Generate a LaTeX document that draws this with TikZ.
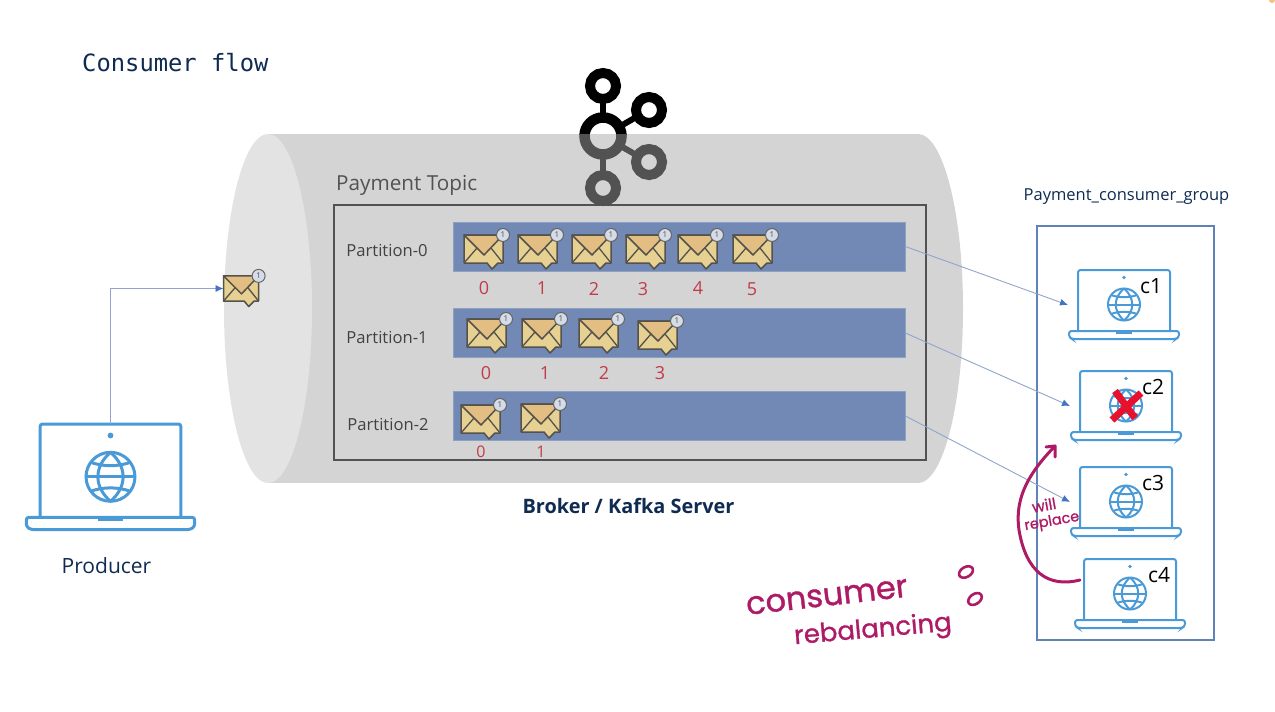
\documentclass[tikz,border=0pt]{standalone}
\usepackage{fontspec}
\setmainfont{Open Sans}
\newfontfamily\codefont{DejaVu Sans Mono}
\newfontfamily\handfont[FakeBold=1]{Poppins}
\usetikzlibrary{arrows.meta,positioning}
\definecolor{navy}{HTML}{0F2B52}
\definecolor{cylbody}{HTML}{D4D4D4}
\definecolor{cylface}{HTML}{E3E3E3}
\definecolor{barblue}{HTML}{7189B4}
\definecolor{numred}{HTML}{C23B4A}
\definecolor{linkblue}{HTML}{8FA5CC}
\definecolor{tipblue}{HTML}{4472C4}
\definecolor{groupblue}{HTML}{5F82B8}
\definecolor{lapblue}{HTML}{4A9AD8}
\definecolor{mailtop}{HTML}{E2BE82}
\definecolor{mailbot}{HTML}{E6D092}
\definecolor{mailedge}{HTML}{55524C}
\definecolor{badge}{HTML}{D6DCE7}
\definecolor{inkpink}{HTML}{AD1A66}
\definecolor{crossred}{HTML}{E8112D}
\definecolor{speck}{HTML}{F4C27F}
\tikzset{
  bar/.style={fill=barblue,draw=barblue!80!white,minimum width=452pt,minimum height=49pt,inner sep=0pt,anchor=west},
  plabel/.style={text=black!74,font=\fontsize{16.6}{17}\selectfont},
  num/.style={text=numred,font=\fontsize{18}{18}\selectfont},
  clabel/.style={text=black,font=\fontsize{21}{21}\selectfont},
  conn/.style={draw=linkblue,line width=0.9pt,-{Latex[length=8pt,width=7pt,color=tipblue]}},
  ink/.style={draw=inkpink,line width=3pt,line cap=round,line join=round},
  inktext/.style={text=inkpink,inner sep=0pt},
  mail/.pic={
    \path[fill=mailbot,draw=mailedge,line width=1.5pt,line join=round] (-20,-14) -- (19,-14) -- (19,14) -- (14,14) -- (8,20) -- (3,14) -- (-20,14) -- cycle;
    \path[fill=mailtop,draw=mailedge,line width=1.5pt,line join=round] (-20,-14) -- (19,-14) -- (0,6) -- cycle;
    \draw[mailedge,line width=1.3pt] (-20,14) -- (-7,-1);
    \draw[mailedge,line width=1.3pt] (19,14) -- (7,-1);
    \node[circle,fill=badge,draw=black!60,line width=1pt,minimum size=13pt,inner sep=0pt,font=\fontsize{8}{8}\selectfont,text=black!70] (-badge) at (19,-14) {1};
    \coordinate (-in) at (-20,0);
  },
  laptop/.pic={
    \draw[lapblue,rounded corners=2.5pt] (-46,61) -- (-46,0) -- (46,0) -- (46,61);
    \draw[lapblue,rounded corners=2.5pt] (-55,61) -- (55,61) -- (55,67) -- (52,69) -- (-52,69) -- (-55,67) -- cycle;
    \fill[lapblue] (-8,61) rectangle (8,63.5);
    \fill[lapblue] (0,7.5) circle (1.9);
    \draw[lapblue] (0,34.5) circle (16);
    \draw[lapblue] (-16,34.5) -- (16,34.5);
    \draw[lapblue] (0,18.5) .. controls (-11,28) and (-11,41) .. (0,50.5);
    \draw[lapblue] (0,18.5) .. controls (11,28) and (11,41) .. (0,50.5);
    \draw[lapblue] (-13,25) .. controls (-5,28) and (5,28) .. (13,25);
    \draw[lapblue] (-13,44) .. controls (-5,41) and (5,41) .. (13,44);
    \coordinate (-top) at (0,0);
    \coordinate (-in) at (-56,35);
  },
  kafka/.pic={
    \draw[line width=10.5pt] (603,136) circle (18.5);
    \draw[line width=10pt] (603,86) circle (13);
    \draw[line width=10pt] (649,110) circle (13);
    \draw[line width=10pt] (649,162) circle (13);
    \draw[line width=10pt] (603,188) circle (13);
    \draw[line width=6pt] (603,99) -- (603,118);
    \draw[line width=6pt] (619,127) -- (638,116);
    \draw[line width=6pt] (619,145) -- (638,156);
    \draw[line width=6pt] (603,154) -- (603,175);
  }
}

\begin{document}
\begin{tikzpicture}[x=1pt,y=-1pt]
        \useasboundingbox (0,0) rectangle (1275,712);

        \fill[speck] (1272,0) circle (3);

        \node[anchor=base west,inner sep=0pt,text=navy,font=\codefont\fontsize{23.8}{24}\selectfont] (title) at (82,71) {Consumer flow};

        \fill[cylbody] (268,134) rectangle (918,483);
        \fill[cylbody] (918,308.5) ellipse (45 and 174.5);
        \fill[cylface] (268,308.5) ellipse (44 and 174.5);

        \begin{scope}
          \clip (560,60) rectangle (680,134);
          \pic[draw=black] {kafka};
        \end{scope}
        \begin{scope}
          \clip (560,134) rectangle (680,206);
          \pic[draw=black!68] {kafka};
        \end{scope}

        \node[anchor=base west,inner sep=0pt,text=black!68,font=\fontsize{20.7}{21}\selectfont] (topic) at (336,190) {Payment Topic};
        \draw[draw=black!68,line width=1.2pt] (334,205) rectangle (926,460);

        \node[bar] (P0) at (453,246.5) {};
        \node[bar] (P1) at (453,333) {};
        \node[bar] (P2) at (453,416) {};

        \node[plabel] (L0) at (387,250) {Partition-0};
        \node[plabel] (L1) at (387,337) {Partition-1};
        \node[plabel] (L2) at (388,424) {Partition-2};

        \pic (m00) at (484,249) {mail};
        \pic (m01) at (538,249) {mail};
        \pic (m02) at (592,249) {mail};
        \pic (m03) at (646,249) {mail};
        \pic (m04) at (698,249) {mail};
        \pic (m05) at (753,249) {mail};
        \pic (m10) at (487,333) {mail};
        \pic (m11) at (542,333) {mail};
        \pic (m12) at (599,333) {mail};
        \pic (m13) at (658,335) {mail};
        \pic (m20) at (481,419) {mail};
        \pic (m21) at (541,418) {mail};
        \pic[scale=0.9] (msg) at (241.5,288.5) {mail};

        \node[num] (n00) at (484,288) {0};
        \node[num] (n01) at (542,288) {1};
        \node[num] (n02) at (594,289) {2};
        \node[num] (n03) at (643,289) {3};
        \node[num] (n04) at (698,288) {4};
        \node[num] (n05) at (752,289) {5};
        \node[num] (n10) at (486,373) {0};
        \node[num] (n11) at (545,373) {1};
        \node[num] (n12) at (604,373) {2};
        \node[num] (n13) at (660,373) {3};
        \node[num,font=\fontsize{16}{16}\selectfont] (n20) at (481,452) {0};
        \node[num,font=\fontsize{16}{16}\selectfont] (n21) at (541,452) {1};

        \node[text=navy,font=\bfseries\fontsize{19.9}{20}\selectfont] (broker) at (628.5,506) {Broker / Kafka Server};

        \pic[scale=1.53,line width=3pt] (prod) at (110.5,424) {laptop};
        \node[text=navy,font=\fontsize{21}{21}\selectfont] (prodtext) at (106.5,566) {Producer};
        \draw[conn] (prod-top) |- (msg-in);

        \node[text=navy,font=\fontsize{16.5}{17}\selectfont] (grouptext) at (1126.5,197) {Payment\_consumer\_group};
        \draw[groupblue,line width=1.1pt] (1037,226) rectangle (1214,640);

        \pic[line width=2pt] (c1) at (1124,270) {laptop};
        \pic[line width=2pt] (c2) at (1126,371) {laptop};
        \pic[line width=2pt] (c3) at (1126,467) {laptop};
        \pic[line width=2pt] (c4) at (1130,559) {laptop};

        \node[clabel] (t1) at (1151,286) {c1};
        \node[clabel] (t2) at (1153,387) {c2};
        \node[clabel] (t3) at (1153,483) {c3};
        \node[clabel] (t4) at (1159,575) {c4};

        \draw[conn] (P0.east) -- (c1-in);
        \draw[conn] (P1.east) -- (c2-in);
        \draw[conn] (P2.east) -- (c3-in);

        \draw[crossred,line width=7pt] (1115,391) -- (1135,418);
        \draw[crossred,line width=7pt] (1141,393) -- (1112,420);

        \coordinate (hook) at (1080,580);
        \coordinate (tip) at (1055,446);
        \draw[ink] (hook) .. controls (1048,588) and (1026,572) .. (1019,530) .. controls (1014,495) and (1032,470) .. (tip);
        \draw[ink] (1046,447) -- (tip) -- (1055,457);

        \node[inktext,rotate=10,font=\handfont\fontsize{15.5}{16}\selectfont] (will) at (1044,505) {will};
        \node[inktext,rotate=10,font=\handfont\fontsize{14.5}{15}\selectfont] (replace) at (1052,522) {replace};

        \node[inktext,rotate=6.5,font=\handfont\fontsize{32}{32}\selectfont] (cons) at (827,597) {consumer};
        \node[inktext,rotate=5,font=\handfont\fontsize{26}{26}\selectfont] (rebal) at (873,631) {rebalancing};
        \draw[ink,line width=2.6pt,rotate around={30:(966,572)}] (966,572) ellipse (7.5 and 5);
        \draw[ink,line width=2.6pt,rotate around={35:(975,599)}] (975,599) ellipse (7.5 and 5);

      \end{tikzpicture}
\end{document}
